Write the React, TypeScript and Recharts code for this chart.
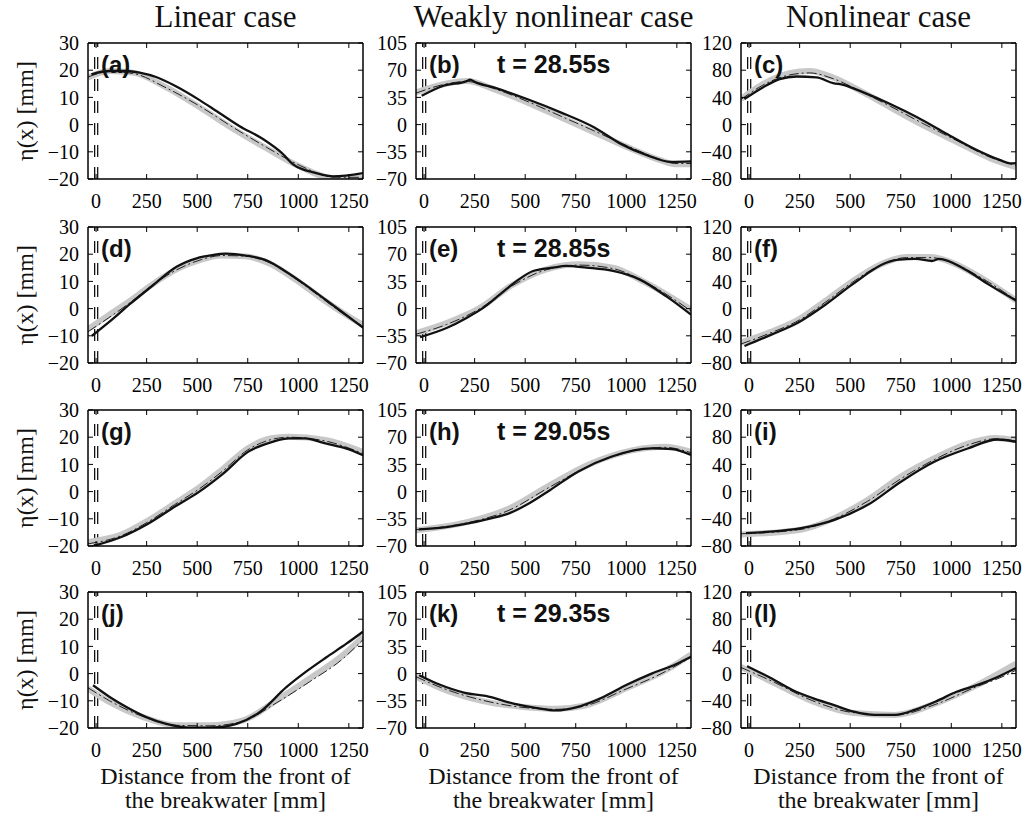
import React from 'react';
import { LineChart, Line, XAxis, YAxis, ReferenceLine } from 'recharts';

type Pt = [number, number];

// ---------- axis data ----------
const X_DOMAIN: [number, number] = [-40, 1320];
const X_TICKS = [0, 250, 500, 750, 1000, 1250];
const BREAKWATER_X = [-7, 8];
const Y_DOMAINS: [number, number][] = [[-20, 30], [-70, 105], [-80, 120]];
const Y_TICKS = [
  [-20, -10, 0, 10, 20, 30],
  [-70, -35, 0, 35, 70, 105],
  [-80, -40, 0, 40, 80, 120],
];
const COLUMN_TITLES = ['Linear case', 'Weakly nonlinear case', 'Nonlinear case'];
const PANEL_LABELS = [
  ['(a)', '(b)', '(c)'],
  ['(d)', '(e)', '(f)'],
  ['(g)', '(h)', '(i)'],
  ['(j)', '(k)', '(l)'],
];
const TIME_LABELS = ['t = 28.55s', 't = 28.85s', 't = 29.05s', 't = 29.35s'];
const Y_LABEL = 'η(x) [mm]';
const X_LABEL_1 = 'Distance from the front of';
const X_LABEL_2 = 'the breakwater [mm]';

// ---------- series data ----------
const grayA: Pt[] = [[-40, 17.3], [67, 19.7], [183, 19.1], [347, 13.7], [512, 6.4], [677, -1.5], [842, -8.7], [1007, -15.4], [1172, -19.6], [1320, -19.6]];
const blackA: Pt[] = [[-23, 18.5], [67, 19.7], [150, 19.7], [215, 19.1], [300, 17.4], [397, 14], [512, 9], [595, 5], [710, -0.6], [825, -5.3], [924, -10.8], [974, -14.6], [1089, -17.8], [1172, -19], [1320, -17.8]];
const dashA: Pt[] = [[-40, 17.5], [67, 19.5], [183, 18.8], [347, 13.5], [512, 6.8], [677, -1], [842, -8.3], [1007, -15], [1172, -19.3], [1320, -19.4]];

const grayB: Pt[] = [[-40, 41.4], [96, 52], [211, 56], [344, 45.7], [509, 28.6], [675, 9.4], [840, -9.8], [1006, -29], [1171, -46], [1240, -51], [1320, -51]];
const blackB: Pt[] = [[-12, 37], [96, 50], [211, 56], [228, 58], [250, 55], [344, 47.8], [509, 32.9], [675, 15.8], [840, -3.4], [973, -24.8], [1105, -39.7], [1221, -48], [1320, -47.4]];
const dashB: Pt[] = [[-40, 40.5], [96, 51.5], [211, 55.5], [344, 46.5], [509, 30], [675, 11], [840, -8], [1006, -27.5], [1171, -45], [1240, -50], [1320, -50]];

const grayC: Pt[] = [[-40, 37.6], [68, 59.5], [200, 75.6], [300, 79], [416, 69.3], [565, 47.3], [698, 25.4], [864, -1.5], [1030, -25.9], [1196, -50], [1320, -62.4]];
const blackC: Pt[] = [[-23, 37.6], [68, 54.6], [151, 66.8], [234, 70.7], [333, 69.3], [416, 61], [466, 58.5], [565, 47.3], [698, 30.2], [831, 10.7], [963, -11.2], [1113, -35.6], [1245, -52.7], [1290, -57], [1320, -56.6]];
const dashC: Pt[] = [[-40, 37], [68, 58], [200, 73], [300, 76], [416, 67.5], [565, 47], [698, 27], [864, 1], [1030, -24], [1196, -48.5], [1320, -60]];

const grayD: Pt[] = [[-40, -7.5], [60, -2.5], [170, 3], [280, 9], [400, 14.5], [520, 18], [620, 19.5], [740, 19.2], [860, 16.5], [980, 11], [1110, 4], [1220, -1.5], [1320, -6]];
const blackD: Pt[] = [[-20, -10], [80, -4], [168, 1.7], [280, 8.5], [398, 15.4], [497, 18.5], [580, 19.7], [640, 20.2], [740, 19.5], [850, 17.5], [930, 14], [1030, 9], [1140, 3], [1230, -2], [1320, -7]];
const dashD: Pt[] = [[-40, -8.5], [60, -3.5], [170, 2.3], [280, 8.7], [400, 14.3], [520, 18], [620, 19.5], [740, 19.3], [860, 16.8], [980, 11.3], [1110, 4.2], [1220, -1.8], [1320, -6.5]];

const grayE: Pt[] = [[-40, -31.5], [111, -18.6], [276, 0.9], [440, 31], [605, 50.6], [769, 57], [934, 52.7], [1098, 33], [1320, -1.3]];
const blackE: Pt[] = [[-20, -36.7], [111, -25], [210, -12], [292, 0.9], [374, 18], [457, 35.4], [539, 48.4], [637, 52.7], [703, 54.9], [802, 52.7], [934, 48.4], [1065, 37.6], [1197, 16], [1320, -7.8]];
const dashE: Pt[] = [[-40, -33], [111, -20.5], [276, 0], [440, 30], [605, 50], [769, 56], [934, 51.5], [1098, 33.5], [1320, -3]];

const grayF: Pt[] = [[-40, -50], [100, -35], [250, -15], [380, 12], [510, 40], [650, 65], [780, 76], [900, 76], [1000, 68], [1150, 45], [1320, 12]];
const blackF: Pt[] = [[-23, -55], [116, -37.6], [248, -19.6], [380, 6.3], [511, 35.6], [675, 67], [741, 72], [823, 73], [905, 70], [938, 73], [1069, 57.6], [1184, 35.6], [1320, 12]];
const dashF: Pt[] = [[-40, -52], [100, -36.5], [250, -16.5], [380, 10], [510, 38.5], [650, 64], [780, 75], [900, 75], [1000, 68], [1150, 45], [1320, 12.5]];

const grayG: Pt[] = [[-40, -18.5], [125, -15.8], [260, -10.5], [388, -4.4], [510, 1.5], [630, 8.5], [751, 15.9], [860, 19.5], [953, 20.2], [1134, 19], [1320, 14.6]];
const blackG: Pt[] = [[-16, -20], [125, -16.7], [257, -11.8], [388, -5.6], [509, -0.1], [630, 6.7], [751, 14.6], [872, 18.3], [953, 19.6], [1034, 19.6], [1134, 17.7], [1235, 15.9], [1320, 13.4]];
const dashG: Pt[] = [[-40, -19.2], [125, -16.2], [260, -11], [388, -4.8], [510, 1], [630, 7.8], [751, 15.4], [860, 19], [953, 20], [1134, 18.6], [1320, 14]];

const grayH: Pt[] = [[-40, -49.8], [217, -39], [420, -21.8], [622, 8.3], [825, 36], [1027, 53], [1189, 57.7], [1320, 51]];
const blackH: Pt[] = [[-26, -48.5], [100, -46], [217, -41], [320, -35], [420, -28], [520, -15], [622, 1.8], [763, 26], [925, 44.8], [1127, 55.5], [1228, 54.7], [1320, 47]];
const dashH: Pt[] = [[-40, -49], [217, -40], [420, -24], [622, 6], [825, 34], [1027, 52], [1189, 57], [1320, 50]];

const grayI: Pt[] = [[-40, -63], [257, -56], [422, -39], [587, -12], [751, 22], [916, 49], [1081, 70.7], [1216, 79], [1320, 75.6]];
const blackI: Pt[] = [[-15, -61], [100, -59], [257, -53.7], [422, -41.5], [587, -19.5], [751, 14.6], [916, 43.9], [1081, 63.4], [1229, 76.6], [1320, 73]];
const dashI: Pt[] = [[-40, -62], [257, -55.5], [422, -40], [587, -14], [751, 19], [916, 47], [1081, 68.5], [1216, 77.5], [1320, 74.5]];

const grayJ: Pt[] = [[-40, -5.5], [67, -10.5], [232, -16], [397, -19], [562, -19], [727, -17.2], [891, -9.9], [1056, -1.8], [1221, 6.8], [1320, 13.5]];
const blackJ: Pt[] = [[-15, -4.3], [67, -8.6], [150, -12.3], [248, -16], [347, -18.5], [430, -19.7], [479, -19.9], [611, -19.7], [694, -18.5], [809, -14.2], [941, -5], [1040, 0.8], [1139, 6], [1238, 11], [1320, 15.4]];
const dashJ: Pt[] = [[-40, -5.2], [67, -10], [232, -15.8], [397, -19], [562, -19.2], [727, -17.5], [891, -10.8], [1056, -3], [1221, 5.5], [1320, 12.5]];

const grayK: Pt[] = [[-40, -4], [79, -18.5], [284, -35], [489, -43], [653, -45.3], [797, -41], [1002, -18.5], [1207, 6], [1320, 24.7]];
const blackK: Pt[] = [[-24, -2], [79, -14.4], [202, -24.7], [305, -28.8], [448, -39], [551, -44], [653, -47.4], [756, -43], [879, -31], [1002, -14.4], [1125, 0], [1248, 12.4], [1320, 21.8]];
const dashK: Pt[] = [[-40, -4], [79, -17.5], [284, -34], [489, -43.5], [653, -46], [797, -41.5], [1002, -19.5], [1150, -3], [1320, 21]];

const grayL: Pt[] = [[-40, 9.7], [112, -12], [315, -41], [518, -58], [721, -60.7], [924, -43.7], [1127, -17], [1320, 14.6]];
const blackL: Pt[] = [[-10, 11], [112, -7.3], [214, -24], [315, -36], [417, -46], [518, -56], [620, -60.7], [721, -60.7], [823, -53], [924, -41], [1026, -26.7], [1127, -17], [1229, -4.9], [1320, 8.3]];
const dashL: Pt[] = [[-40, 9], [112, -11], [315, -40], [518, -57.5], [721, -61], [924, -45], [1127, -19], [1250, -5], [1320, 5]];

const GRAY = [[grayA, grayB, grayC], [grayD, grayE, grayF], [grayG, grayH, grayI], [grayJ, grayK, grayL]];
const BLACK = [[blackA, blackB, blackC], [blackD, blackE, blackF], [blackG, blackH, blackI], [blackJ, blackK, blackL]];
const DASH = [[dashA, dashB, dashC], [dashD, dashE, dashF], [dashG, dashH, dashI], [dashJ, dashK, dashL]];

// ---------- layout ----------
const COL_LEFTS = [88, 416, 741];
const ROW_TOPS = [43, 227, 410, 592];
const PW = 275;
const PH = 136;
const YW = 50;
const MT = 12;
const MR = 14;
const XH = 40;

const SERIF = 'Liberation Serif, Times New Roman, serif';
const SANS = 'Liberation Sans, Arial, sans-serif';

const toRows = (pts: Pt[]) => pts.map(([x, y]) => ({ x, y }));
const fmtTick = (v: number) => String(v).replace('-', '\u2212');

function Panel({ row, col }: { row: number; col: number }) {
  const left = COL_LEFTS[col];
  const top = ROW_TOPS[row];
  const w = YW + PW + 1 + MR;
  const h = MT + 1 + PH + XH;
  const yDom = Y_DOMAINS[col];
  const yTicks = Y_TICKS[col];
  const axisLine = { stroke: '#000', strokeWidth: 1.5 };
  const tickLine = { stroke: '#000', strokeWidth: 1 };
  return (
    <div style={{ position: 'absolute', left: left - YW, top: top - MT - 1 }}>
      <LineChart width={w} height={h} margin={{ top: MT, right: MR, bottom: 0, left: 0 }}>
        <XAxis
          xAxisId="b"
          type="number"
          dataKey="x"
          domain={X_DOMAIN}
          ticks={X_TICKS}
          interval={0}
          allowDataOverflow
          height={XH}
          tickSize={-5}
          tickMargin={20}
          axisLine={axisLine}
          tickLine={tickLine}
          tick={{ fill: '#000', fontSize: 20, fontFamily: SERIF }}
        />
        <XAxis
          xAxisId="t"
          orientation="top"
          type="number"
          dataKey="x"
          domain={X_DOMAIN}
          ticks={X_TICKS}
          interval={0}
          allowDataOverflow
          height={1}
          tickSize={-5}
          axisLine={axisLine}
          tickLine={tickLine}
          tickFormatter={() => ''}
        />
        <YAxis
          yAxisId="l"
          type="number"
          domain={yDom}
          ticks={yTicks}
          interval={0}
          allowDataOverflow
          width={YW}
          tickSize={-5}
          tickMargin={14}
          axisLine={axisLine}
          tickLine={tickLine}
          tickFormatter={fmtTick}
          tick={{ fill: '#000', fontSize: 20, fontFamily: SERIF }}
        />
        <YAxis
          yAxisId="r"
          orientation="right"
          type="number"
          domain={yDom}
          ticks={yTicks}
          interval={0}
          allowDataOverflow
          width={1}
          tickSize={-5}
          axisLine={axisLine}
          tickLine={tickLine}
          tickFormatter={() => ''}
        />
        {BREAKWATER_X.map((bx) => (
          <ReferenceLine
            key={bx}
            xAxisId="b"
            yAxisId="l"
            x={bx}
            stroke="#000"
            strokeWidth={1.2}
            strokeDasharray="12 10"
          />
        ))}
        <Line
          xAxisId="b"
          yAxisId="l"
          data={toRows(GRAY[row][col])}
          dataKey="y"
          type="monotone"
          stroke="#c8c8c8"
          strokeWidth={6}
          dot={false}
          isAnimationActive={false}
        />
        <Line
          xAxisId="b"
          yAxisId="l"
          data={toRows(DASH[row][col])}
          dataKey="y"
          type="monotone"
          stroke="#222"
          strokeWidth={1}
          strokeDasharray="10 3 2 3"
          dot={false}
          isAnimationActive={false}
        />
        <Line
          xAxisId="b"
          yAxisId="l"
          data={toRows(BLACK[row][col])}
          dataKey="y"
          type="monotone"
          stroke="#111"
          strokeWidth={2.3}
          dot={false}
          isAnimationActive={false}
        />
      </LineChart>
    </div>
  );
}

export default function App() {
  const rows = [0, 1, 2, 3];
  const cols = [0, 1, 2];
  return (
    <div style={{ position: 'absolute', left: 0, top: 0, width: 1025, height: 820, background: '#fff' }}>
      {rows.map((r) => cols.map((c) => <Panel key={`${r}-${c}`} row={r} col={c} />))}
      <svg
        width={1025}
        height={820}
        style={{ position: 'absolute', left: 0, top: 0, pointerEvents: 'none' }}
      >
        {COLUMN_TITLES.map((t, c) => (
          <text key={t} x={COL_LEFTS[c] + PW / 2} y={27} textAnchor="middle" fontFamily={SERIF} fontSize={31} fill="#111">
            {t}
          </text>
        ))}
        {ROW_TOPS.map((t, r) => (
          <text
            key={`yl${r}`}
            transform={`translate(25, ${t + PH / 2}) rotate(-90)`}
            textAnchor="middle"
            dominantBaseline="central"
            fontFamily={SERIF}
            fontSize={24}
            fill="#111"
          >
            {Y_LABEL}
          </text>
        ))}
        {ROW_TOPS.map((t, r) =>
          cols.map((c) => (
            <text key={`pl${r}${c}`} x={COL_LEFTS[c] + 13} y={t + 30} fontFamily={SANS} fontWeight="bold" fontSize={24} fill="#111">
              {PANEL_LABELS[r][c]}
            </text>
          ))
        )}
        {ROW_TOPS.map((t, r) => (
          <text key={`tl${r}`} x={COL_LEFTS[1] + 81} y={t + 30} fontFamily={SANS} fontWeight="bold" fontSize={25} fill="#111">
            {TIME_LABELS[r]}
          </text>
        ))}
        {cols.map((c) => (
          <g key={`xl${c}`}>
            <text x={COL_LEFTS[c] + PW / 2} y={784} textAnchor="middle" fontFamily={SERIF} fontSize={24} fill="#111">
              {X_LABEL_1}
            </text>
            <text x={COL_LEFTS[c] + PW / 2} y={808} textAnchor="middle" fontFamily={SERIF} fontSize={24} fill="#111">
              {X_LABEL_2}
            </text>
          </g>
        ))}
      </svg>
    </div>
  );
}
